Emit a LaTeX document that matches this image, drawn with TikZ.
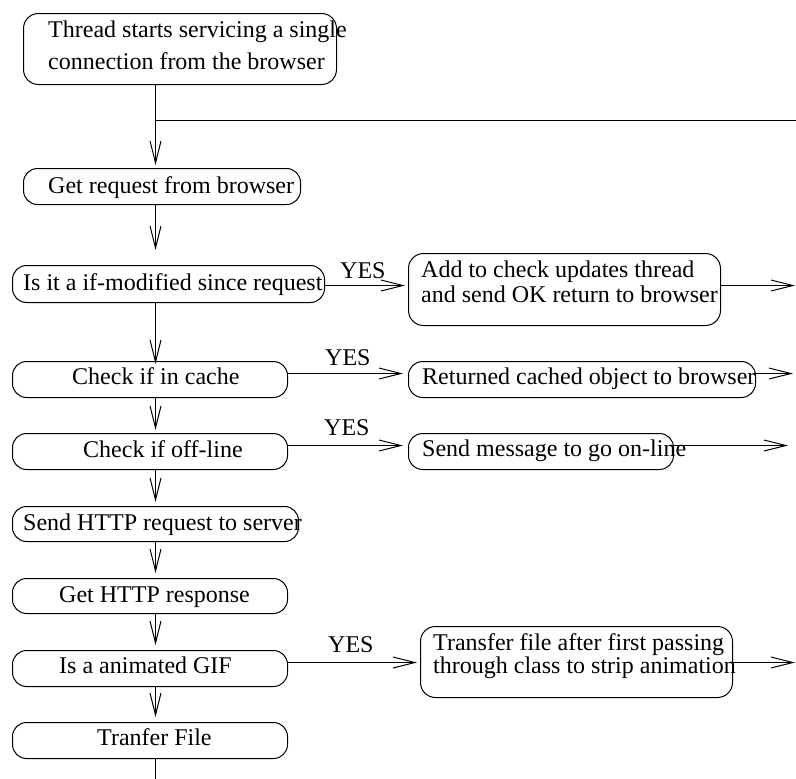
\documentclass[tikz,border=0pt]{standalone}
\usepackage{fontspec}
\setmainfont{Liberation Serif}
\usetikzlibrary{arrows.meta}
\begin{document}
\begin{tikzpicture}[x=1pt,y=-1pt,
  box/.style={draw, line width=1pt, rounded corners=14pt, anchor=north west, inner sep=0pt},
  tall/.style={rounded corners=15pt},
  txt/.style={anchor=base west, inner sep=0pt, font=\fontsize{24}{28}\selectfont},
  arr/.style={line width=1pt, -{Straight Barb[length=22pt,width=11pt,line width=1pt]}},
  wire/.style={line width=1pt}]
\useasboundingbox (0,0) rectangle (796,779);
\coordinate (spine) at (155.5,0);
\coordinate (edge) at (795,0);
\coordinate (branch) at (155.5,120.5);

% main column
\node[box,tall,minimum width=313pt,minimum height=71pt] (start) at (23,13) {};
\node[txt] (start1) at (48,37) {Thread starts servicing a single};
\node[txt] (start2) at (48,69) {connection from the browser};

\node[box,minimum width=277pt,minimum height=36pt] (getreq) at (23,168) {};
\node[txt] (getreqt) at (48,193) {Get request from browser};

\node[box,minimum width=312pt,minimum height=37pt] (ifmod) at (12,265) {};
\node[txt] (ifmodt) at (23,290) {Is it a if-modified since request};

\node[box,minimum width=275pt,minimum height=36pt] (cache) at (12,361) {};
\node[txt] (cachet) at (72,384) {Check if in cache};

\node[box,minimum width=275pt,minimum height=36pt] (offline) at (12,433) {};
\node[txt] (offlinet) at (83,457) {Check if off-line};

\node[box,minimum width=286pt,minimum height=35pt] (sendreq) at (12,506) {};
\node[txt] (sendreqt) at (23,530) {Send HTTP request to server};

\node[box,minimum width=275pt,minimum height=35pt] (getresp) at (12,578) {};
\node[txt] (getrespt) at (59,602) {Get HTTP response};

\node[box,minimum width=275pt,minimum height=36pt] (gif) at (12,650) {};
\node[txt] (gift) at (59,673) {Is a animated GIF};

\node[box,minimum width=275pt,minimum height=36pt] (xfer) at (12,722) {};
\node[txt] (xfert) at (97,745) {Tranfer File};

% side branches
\node[box,tall,minimum width=312pt,minimum height=72pt] (addchk) at (408,253) {};
\node[txt] (addchk1) at (421,277) {Add to check updates thread};
\node[txt] (addchk2) at (421,302) {and send OK return to browser};

\node[box,minimum width=347pt,minimum height=36pt] (cached) at (408,361) {};
\node[txt] (cachedt) at (422,384) {Returned cached object to browser};

\node[box,minimum width=265pt,minimum height=36pt] (online) at (408,433) {};
\node[txt] (onlinet) at (422,456) {Send message to go on-line};

\node[box,tall,minimum width=312pt,minimum height=71pt] (strip) at (420,626) {};
\node[txt] (strip1) at (433,650) {Transfer file after first passing};
\node[txt] (strip2) at (433,673) {through class to strip animation};

% YES labels
\node[txt] (yes1) at (340,278) {YES};
\node[txt] (yes2) at (325,365) {YES};
\node[txt] (yes3) at (324,435) {YES};
\node[txt] (yes4) at (328,652) {YES};

% main flow
\draw[arr, shorten >=3pt] (start.south -| spine) -- (getreq.north -| spine);
\draw[wire] (branch) -- ++(641,0);
\draw[arr, shorten >=15pt] (getreq.south -| spine) -- (ifmod.north -| spine);
\draw[arr, shorten >=-3pt] (ifmod.south -| spine) -- (cache.north -| spine);
\draw[arr, shorten >=3pt] (cache.south -| spine) -- (offline.north -| spine);
\draw[arr, shorten >=4pt] (offline.south -| spine) -- (sendreq.north -| spine);
\draw[arr, shorten >=5pt] (sendreq.south -| spine) -- (getresp.north -| spine);
\draw[arr, shorten >=5pt] (getresp.south -| spine) -- (gif.north -| spine);
\draw[arr, shorten >=5pt] (gif.south -| spine) -- (xfer.north -| spine);
\draw[wire] (xfer.south -| spine) -- ++(0,21);

% YES branches
\coordinate (r1) at ([yshift=-1.5pt]ifmod.east);
\draw[arr, shorten >=3pt] (r1) -- (r1 -| addchk.west);
\draw[arr] (r1 -| addchk.east) -- (r1 -| edge);

\coordinate (r2) at ([yshift=6pt]cache.east);
\draw[arr, shorten >=5pt] (r2) -- (r2 -| cached.west);
\draw[arr, shorten >=2pt] (r2 -| cached.east) -- (r2 -| edge);

\coordinate (r3) at ([yshift=6pt]offline.east);
\draw[arr, shorten >=5pt] (r3) -- (r3 -| online.west);
\draw[arr, shorten >=7pt] (r3 -| online.east) -- (r3 -| edge);

\coordinate (r4) at ([yshift=6pt]gif.east);
\draw[arr, shorten >=3pt] (r4) -- (r4 -| strip.west);
\draw[arr] (r4 -| strip.east) -- (r4 -| edge);
\end{tikzpicture}
\end{document}
